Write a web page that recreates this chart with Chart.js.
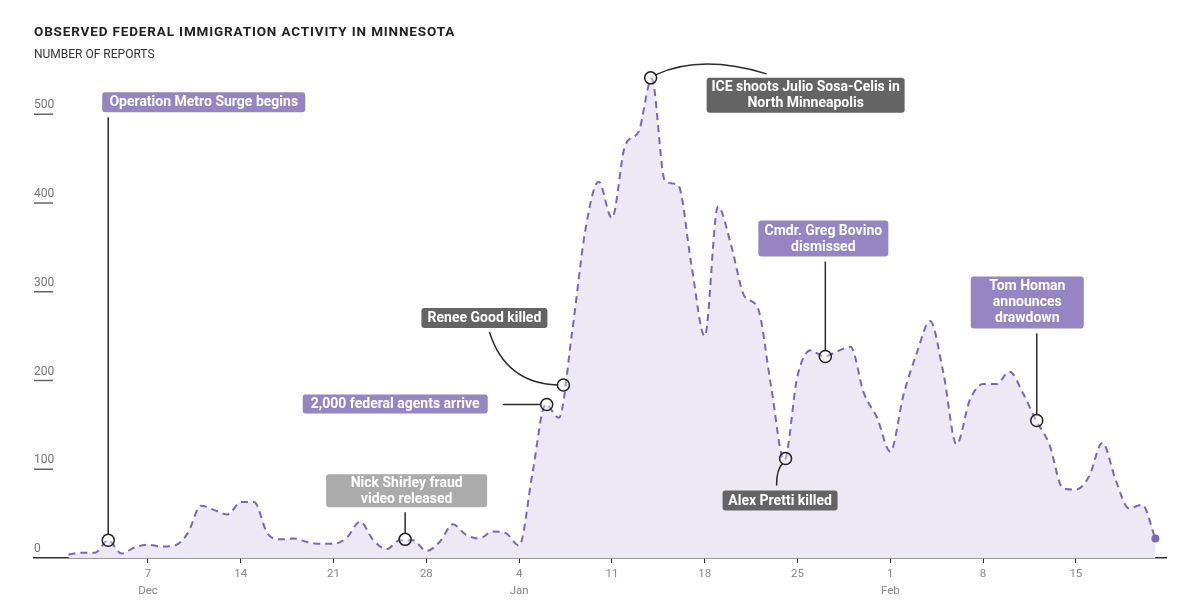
<!DOCTYPE html>
<html>
<head>
<meta charset="utf-8">
<script src="https://cdn.jsdelivr.net/npm/chart.js@4"></script>
<style>
  html, body { margin: 0; padding: 0; background: #fff; }
  #wrap { position: relative; width: 1200px; height: 613px; }
  #title { position: absolute; left: 34px; top: 23px; font: bold 13.5px Roboto, sans-serif; letter-spacing: 0.85px; color: #222; }
  #subtitle { position: absolute; left: 34px; top: 47px; font: 12px Roboto, sans-serif; color: #333; }
  canvas { position: absolute; left: 0; top: 0; }
</style>
</head>
<body>
<div id="wrap">
  <canvas id="chart" width="1200" height="613"></canvas>
  <div id="title">OBSERVED FEDERAL IMMIGRATION ACTIVITY IN MINNESOTA</div>
  <div id="subtitle">NUMBER OF REPORTS</div>
</div>
<script>
// daily reports, Dec 1 2025 .. Feb 21 2026 (index 0 = Dec 1)
const decReports = [4, 6, 6, 20, 5, 12, 15, 13, 14, 28, 59, 54, 49, 63, 63, 28, 21, 22, 18, 16, 16, 23, 41, 20, 10, 20, 20, 8, 18, 38, 26];
const janReports = [22, 30, 28, 14, 95, 173, 158, 255, 370, 424, 383, 465, 480, 540, 425, 420, 330, 250, 396, 352, 295, 282, 194, 110, 205, 234, 227, 233, 238, 186, 158];
const febReports = [120, 184, 231, 267, 209, 128, 178, 196, 196, 210, 186, 155, 128, 79, 77, 92, 130, 88, 56, 60, 22];
const reports = decReports.concat(janReports, febReports);

// x ticks (day index) and their labels
const tickDays = [6, 13, 20, 27, 34, 41, 48, 55, 62, 69, 76];
const tickLabels = ['7', '14', '21', '28', '4', '11', '18', '25', '1', '8', '15'];
const monthLabels = ['Dec', '', '', '', 'Jan', '', '', '', 'Feb', '', ''];
const yTicks = [0, 100, 200, 300, 400, 500];

// events: day index (fractional), value at the marker
const eventText = [
  ['Operation Metro Surge begins'],
  ['Nick Shirley fraud', 'video released'],
  ['2,000 federal agents arrive'],
  ['Renee Good killed'],
  ['ICE shoots Julio Sosa-Celis in', 'North Minneapolis'],
  ['Cmdr. Greg Bovino', 'dismissed'],
  ['Alex Pretti killed'],
  ['Tom Homan', 'announces', 'drawdown']
];
const eventDay = [3.0, 25.4, 36.08, 37.34, 43.92, 57.1, 54.1, 73.05];
const eventValue = [20, 21, 173, 195, 541, 227, 112, 155];

const PURPLE = '#9586c3', DARK = '#646464', LIGHT = '#ababab';
// box layout relative to the marker: dx/dy of box top-left, width, height, colour, connector type
const eventStyle = [
  {dx: -6, dy: -448, w: 203, h: 20, color: PURPLE, link: 'up'},
  {dx: -79, dy: -65, w: 161, h: 33, color: LIGHT, link: 'up'},
  {dx: -244, dy: -10, w: 185, h: 19, color: PURPLE, link: 'left'},
  {dx: -142, dy: -77, w: 126, h: 20, color: DARK, link: 'curveRenee'},
  {dx: 56, dy: 0, w: 198, h: 35, color: DARK, link: 'curveIce'},
  {dx: -67, dy: -136, w: 130, h: 36, color: PURPLE, link: 'up'},
  {dx: -63, dy: 32, w: 115, h: 20, color: DARK, link: 'curveAlex'},
  {dx: -66, dy: -144, w: 113, h: 52, color: PURPLE, link: 'up'}
];

const yLabelPlugin = {
  id: 'yLabels',
  afterDraw(chart) {
    const {ctx, chartArea, scales: {y}} = chart;
    ctx.save();
    ctx.font = '12px Roboto, sans-serif';
    ctx.fillStyle = '#777';
    ctx.textBaseline = 'middle';
    ctx.textAlign = 'left';
    yTicks.forEach(v => {
      const py = y.getPixelForValue(v);
      ctx.fillText(String(v), chartArea.left, py - 9);
      if (v > 0) {
        ctx.strokeStyle = '#666';
        ctx.lineWidth = 1.5;
        ctx.beginPath();
        ctx.moveTo(chartArea.left, py);
        ctx.lineTo(chartArea.left + 19, py);
        ctx.stroke();
      }
    });
    ctx.restore();
  }
};

function roundRect(ctx, x, y, w, h, r) {
  ctx.beginPath();
  ctx.moveTo(x + r, y);
  ctx.arcTo(x + w, y, x + w, y + h, r);
  ctx.arcTo(x + w, y + h, x, y + h, r);
  ctx.arcTo(x, y + h, x, y, r);
  ctx.arcTo(x, y, x + w, y, r);
  ctx.closePath();
}

const eventPlugin = {
  id: 'events',
  afterDatasetsDraw(chart) {
    const {ctx, scales: {x, y}} = chart;
    ctx.save();
    eventText.forEach((lines, i) => {
      const cx = x.getPixelForValue(eventDay[i]);
      const cy = y.getPixelForValue(eventValue[i]);
      const s = eventStyle[i];
      const bx = cx + s.dx, by = cy + s.dy;
      const r = 6;

      // connector
      ctx.strokeStyle = '#2b2b2b';
      ctx.lineWidth = 1.5;
      ctx.beginPath();
      if (s.link === 'up') {
        ctx.moveTo(cx, by + s.h + 5);
        ctx.lineTo(cx, cy - r);
      } else if (s.link === 'left') {
        ctx.moveTo(bx + s.w + 15, cy);
        ctx.lineTo(cx - r, cy);
      } else if (s.link === 'curveRenee') {
        ctx.moveTo(bx + 68, by + s.h + 4);
        ctx.quadraticCurveTo(bx + 84, cy - 2, cx - r, cy);
      } else if (s.link === 'curveIce') {
        ctx.moveTo(cx + 5, cy - 3);
        ctx.quadraticCurveTo(cx + 50, cy - 24, bx + 60, by - 4);
      } else if (s.link === 'curveAlex') {
        ctx.moveTo(bx + 54, by - 5);
        ctx.quadraticCurveTo(bx + 54, cy + 10, cx - 3, cy + 5);
      }
      ctx.stroke();

      // marker circle
      ctx.beginPath();
      ctx.arc(cx, cy, r, 0, Math.PI * 2);
      ctx.fillStyle = 'rgba(255,255,255,0.35)';
      ctx.fill();
      ctx.strokeStyle = '#222';
      ctx.lineWidth = 1.5;
      ctx.stroke();

      // label box
      ctx.fillStyle = s.color;
      roundRect(ctx, bx, by, s.w, s.h, 3);
      ctx.fill();
      ctx.fillStyle = '#fff';
      ctx.font = 'bold 14px Roboto, sans-serif';
      ctx.textAlign = 'center';
      ctx.textBaseline = 'middle';
      const lh = 16;
      const top = by + s.h / 2 - (lines.length - 1) * lh / 2;
      lines.forEach((t, k) => ctx.fillText(t, bx + s.w / 2, top + k * lh + 0.5));
    });
    ctx.restore();
  }
};

new Chart(document.getElementById('chart'), {
  type: 'line',
  data: {
    datasets: [{
      data: reports.map((v, i) => ({x: i, y: v})),
      borderColor: '#7a68b3',
      borderWidth: 2,
      borderDash: [7, 5],
      backgroundColor: '#ece8f4',
      fill: 'origin',
      cubicInterpolationMode: 'monotone',
      pointRadius: c => (c.dataIndex === reports.length - 1 ? 4 : 0),
      pointBackgroundColor: '#7a68b3',
      pointBorderWidth: 0
    }]
  },
  options: {
    responsive: false,
    animation: false,
    layout: {padding: {left: 34, right: 34, top: 61, bottom: 0}},
    plugins: {legend: {display: false}, tooltip: {enabled: false}},
    scales: {
      x: {
        type: 'linear',
        min: -2.6,
        max: 82.8,
        afterBuildTicks: s => { s.ticks = tickDays.map(v => ({value: v})); },
        afterFit: s => { s.height = 55; },
        ticks: {
          autoSkip: false,
          maxRotation: 0,
          padding: 3,
          color: '#888',
          font: {size: 11.5, family: 'Roboto', lineHeight: 1.45},
          callback: (v, i) => monthLabels[i] ? [tickLabels[i], monthLabels[i]] : tickLabels[i]
        },
        grid: {drawOnChartArea: false, tickLength: 5, color: '#333', lineWidth: 1},
        border: {color: '#333', width: 1.5}
      },
      y: {display: false, min: 0, max: 560}
    }
  },
  plugins: [yLabelPlugin, eventPlugin]
});
</script>
</body>
</html>
